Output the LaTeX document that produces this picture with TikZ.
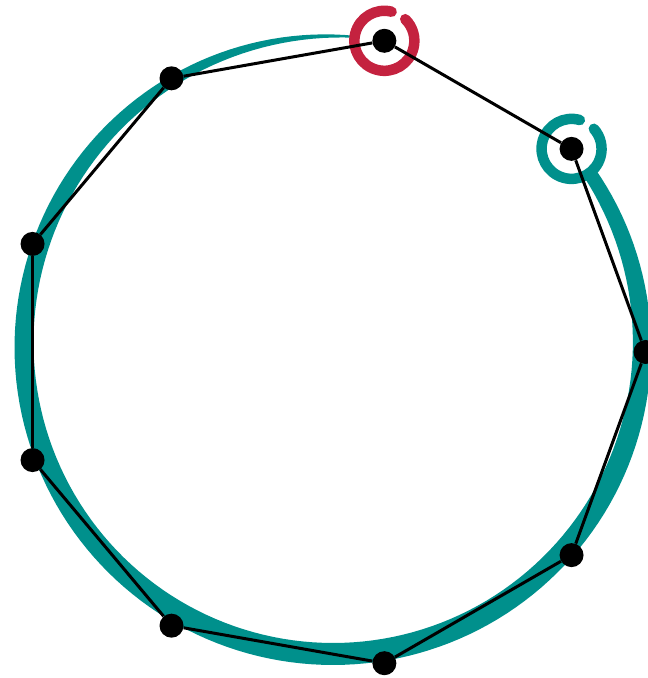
\documentclass[tikz,border=0pt]{standalone}
\usepackage{tikz}
\usetikzlibrary{backgrounds}
\definecolor{loopTeal}{HTML}{00908C}
\definecolor{loopRed}{HTML}{C4223F}
\tikzset{declare function={bs(\t)=sin(0.5*(\t-86));
                           bw(\t)=2+20*bs(\t)*(1.6-0.6*bs(\t));}}

\begin{document}
\begin{tikzpicture}[x=1pt,y=1pt,
   dot/.style={circle,fill=black,inner sep=0pt,minimum size=24pt},
   chord/.style={draw=black,line width=3pt},
   ringmark/.style={line width=10.5pt,line cap=round}]
  \useasboundingbox (0,0) rectangle (648,678);
  % the nine points
  \foreach \i in {0,...,8}
    \node[dot] (p\i) at ({329.5+316*cos(40*\i)},{326+316*sin(40*\i)}) {};
  \begin{pgfonlayer}{background}
    % brush circle
    \fill[loopTeal] plot[domain=86:394,samples=160]
        ({333+(309+bw(\x)/2)*cos(\x)},{333+(309+bw(\x)/2)*sin(\x)})
      -- plot[domain=394:86,samples=160]
        ({333+(309-bw(\x)/2)*cos(\x)},{333+(309-bw(\x)/2)*sin(\x)}) -- cycle;
    % start and end marks
    \draw[ringmark,draw=loopRed] ([shift={(76:30pt)}]p2.center)
      arc[start angle=76,end angle=406,radius=30pt];
    \draw[ringmark,draw=loopTeal] ([shift={(74:30pt)}]p1.center)
      arc[start angle=74,end angle=402,radius=30pt];
    % polygon
    \foreach \i [evaluate=\i as \j using {int(mod(\i+1,9))}] in {0,...,8}
      \draw[chord] (p\i) -- (p\j);
  \end{pgfonlayer}
\end{tikzpicture}
\end{document}
